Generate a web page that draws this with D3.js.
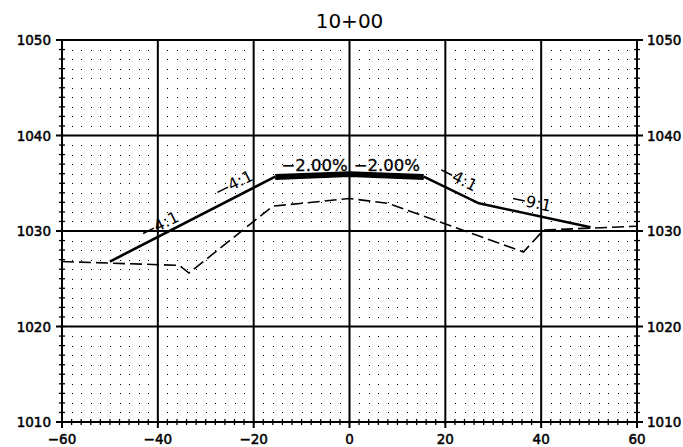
<!DOCTYPE html>
<html>
<head>
<meta charset="utf-8">
<script src="https://cdn.jsdelivr.net/npm/d3@7"></script>
<style>
  body { margin: 0; background: #fff; }
  text { font-family: "DejaVu Sans", sans-serif; fill: #000; }
</style>
</head>
<body>
<svg id="chart" width="683" height="447"></svg>
<script>
const title = '10+00';
const xTicks = [-60, -40, -20, 0, 20, 40, 60];
const yTicks = [1010, 1020, 1030, 1040, 1050];

// existing ground (dashed)
const ground = [[-60, 1026.8], [-35.5, 1026.4], [-33.5, 1025.6], [-16, 1032.6], [0, 1033.4],
  [8, 1032.9], [12.5, 1032.1], [36.3, 1027.8], [40.5, 1030.1], [60, 1030.5]];
// design section (solid)
const leftSlope = [[-50, 1026.8], [-15.5, 1035.7]];
const rightSlope = [[15.5, 1035.7], [27, 1032.9], [50.3, 1030.4]];
const roadTop = [[-15.5, 1035.75], [0, 1036.05], [15.5, 1035.75]];
const roadBase = [[-15.5, 1035.5], [0, 1035.8], [15.5, 1035.5]];
// slope labels: text, x, y, run (horizontal per unit rise, sign = direction)
const slopeLabels = [['4:1', -38.5, 1030.3, -4], ['4:1', -23, 1034.6, -4],
  ['4:1', 22.8, 1034.9, 4], ['9:1', 38.4, 1032.4, 9]];
const gradeLabels = [['−2.00%', -7.3, 1036.3], ['−2.00%', 7.8, 1036.3]];

const svg = d3.select('#chart');
const x = d3.scaleLinear().domain([-60, 60]).range([62, 637]);
const y = d3.scaleLinear().domain([1010, 1050]).range([422, 40]);

// dot grid
const dots = svg.append('g');
d3.range(-58, 60, 2).forEach(dx => {
  d3.range(1011, 1050, 1).forEach(dy => {
    if (dx % 20 === 0 || dy % 10 === 0) return;
    dots.append('rect')
      .attr('x', Math.round(x(dx))).attr('y', Math.round(y(dy)))
      .attr('width', 1).attr('height', 1).attr('fill', '#000');
  });
});

// grid lines
svg.append('g').selectAll('line').data(xTicks).join('line')
  .attr('x1', d => x(d)).attr('x2', d => x(d))
  .attr('y1', y(1050)).attr('y2', y(1010))
  .attr('stroke', '#000').attr('stroke-width', 2);
svg.append('g').selectAll('line').data(yTicks).join('line')
  .attr('x1', x(-60)).attr('x2', x(60))
  .attr('y1', d => y(d)).attr('y2', d => y(d))
  .attr('stroke', '#000').attr('stroke-width', 2);

// minor ticks (straddling the frame)
const minorY = d3.range(1010, 1051, 1);
[x(-60), x(60)].forEach(px => {
  svg.append('g').selectAll('line').data(minorY).join('line')
    .attr('x1', px - 3).attr('x2', px + 3)
    .attr('y1', d => y(d)).attr('y2', d => y(d))
    .attr('stroke', '#000').attr('stroke-width', 1.3);
});
svg.append('g').selectAll('line').data(d3.range(-60, 61, 2)).join('line')
  .attr('x1', d => x(d)).attr('x2', d => x(d))
  .attr('y1', y(1010) - 3).attr('y2', y(1010) + 3)
  .attr('stroke', '#000').attr('stroke-width', 1.3);

// major ticks outside
svg.append('g').selectAll('line').data(yTicks).join('line')
  .attr('x1', x(-60) - 6).attr('x2', x(-60))
  .attr('y1', d => y(d)).attr('y2', d => y(d))
  .attr('stroke', '#000').attr('stroke-width', 2);
svg.append('g').selectAll('line').data(yTicks).join('line')
  .attr('x1', x(60)).attr('x2', x(60) + 6)
  .attr('y1', d => y(d)).attr('y2', d => y(d))
  .attr('stroke', '#000').attr('stroke-width', 2);
svg.append('g').selectAll('line').data(xTicks).join('line')
  .attr('x1', d => x(d)).attr('x2', d => x(d))
  .attr('y1', y(1010)).attr('y2', y(1010) + 6)
  .attr('stroke', '#000').attr('stroke-width', 2);

// tick labels
const fmt = d3.format('');
const tickStyle = sel => sel.style('font-size', '13.5px')
  .attr('stroke', '#000').attr('stroke-width', 0.5);
svg.append('g').selectAll('text').data(yTicks).join('text')
  .attr('x', x(-60) - 11).attr('y', d => y(d) + 5)
  .attr('text-anchor', 'end').call(tickStyle)
  .text(d => d);
svg.append('g').selectAll('text').data(yTicks).join('text')
  .attr('x', x(60) + 10).attr('y', d => y(d) + 5)
  .attr('text-anchor', 'start').call(tickStyle)
  .text(d => d);
svg.append('g').selectAll('text').data(xTicks).join('text')
  .attr('x', d => x(d)).attr('y', y(1010) + 22)
  .attr('text-anchor', 'middle').call(tickStyle)
  .text(d => fmt(d));

svg.append('text').attr('x', x(0)).attr('y', 28)
  .attr('text-anchor', 'middle').style('font-size', '20px').text(title);

// lines
const line = d3.line().x(d => x(d[0])).y(d => y(d[1]));
svg.append('path').attr('d', line(ground)).attr('fill', 'none')
  .attr('stroke', '#000').attr('stroke-width', 1.6).attr('stroke-dasharray', '12,5');
[leftSlope, rightSlope].forEach(s => {
  svg.append('path').attr('d', line(s)).attr('fill', 'none')
    .attr('stroke', '#000').attr('stroke-width', 2.6);
});
svg.append('path').attr('d', line(roadBase)).attr('fill', 'none')
  .attr('stroke', '#000').attr('stroke-width', 3);
svg.append('path').attr('d', line(roadTop)).attr('fill', 'none')
  .attr('stroke', '#000').attr('stroke-width', 4);

// slope labels
const kx = x(1) - x(0), ky = y(1010) - y(1011);
slopeLabels.forEach(([t, lx, ly, run]) => {
  const ang = Math.atan2(ky, Math.abs(run) * kx) * 180 / Math.PI;
  const g = svg.append('g')
    .attr('transform', `translate(${x(lx)},${y(ly)}) rotate(${run < 0 ? -ang : ang})`);
  g.append('line').attr('x1', -22).attr('x2', -10).attr('y1', -5).attr('y2', -5)
    .attr('stroke', '#000').attr('stroke-width', 1.5);
  g.append('text').attr('x', -9).attr('y', 0)
    .style('font-size', '16px').text(t);
});
gradeLabels.forEach(([t, lx, ly]) => {
  svg.append('text').attr('x', x(lx)).attr('y', y(ly))
    .attr('text-anchor', 'middle').style('font-size', '16.5px')
    .attr('stroke', '#000').attr('stroke-width', 0.3).text(t);
});
</script>
</body>
</html>
